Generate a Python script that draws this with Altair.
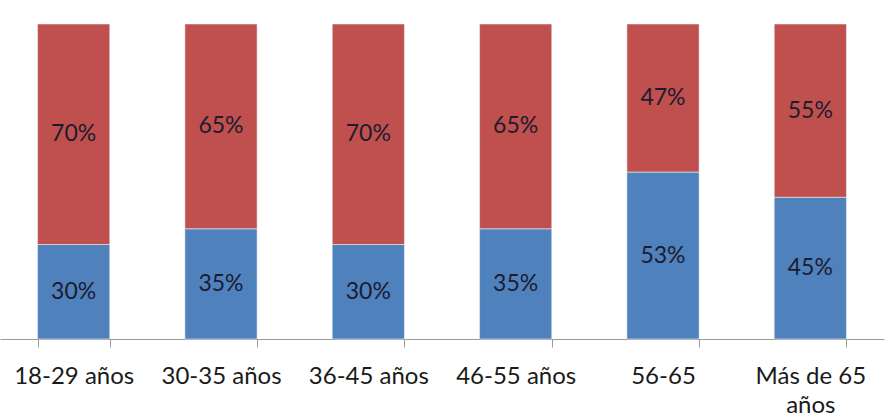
import altair as alt
import pandas as pd

categories = ["18-29 años", "30-35 años", "36-45 años", "46-55 años", "56-65", "Más de 65 años"]
blue_values = [30, 35, 30, 35, 53, 45]
red_values = [70, 65, 70, 65, 47, 55]
series_names = ["Azul", "Rojo"]
colors = ["#4F81BD", "#C0504D"]

rows = []
for c, b, r in zip(categories, blue_values, red_values):
    rows.append({"cat": c, "serie": series_names[0], "orden": 0, "valor": b})
    rows.append({"cat": c, "serie": series_names[1], "orden": 1, "valor": r})
df = pd.DataFrame(rows)

base = alt.Chart(df).transform_stack(
    stack="valor", groupby=["cat"], as_=["y0", "y1"], sort=[alt.SortField("orden", order="ascending")]
).transform_calculate(
    ymid="(datum.y0 + datum.y1) / 2",
    etiqueta="datum.valor + '%'"
)

x = alt.X(
    "cat:N",
    sort=categories,
    title=None,
    scale=alt.Scale(paddingInner=0.51, paddingOuter=0.255),
    axis=alt.Axis(
        domainColor="#9a9a9a",
        tickColor="#9a9a9a",
        tickSize=8,
        tickBand="extent",
        labelAngle=0,
        labelFont="Lato",
        labelFontSize=24,
        labelColor="#1a1a1a",
        labelPadding=17,
        labelLineHeight=29,
        labelExpr="datum.label == 'Más de 65 años' ? ['Más de 65', 'años'] : datum.label",
        grid=False,
    ),
)

bars = base.mark_bar(stroke="#e8eef5", strokeWidth=0.6).encode(
    x=x,
    y=alt.Y("y0:Q", scale=alt.Scale(domain=[0, 100], nice=False), axis=None),
    y2="y1:Q",
    color=alt.Color("serie:N", scale=alt.Scale(domain=series_names, range=colors), legend=None),
)

texts = base.mark_text(font="Lato", fontSize=23, color="#1c1c30").encode(
    x=alt.X("cat:N", sort=categories),
    y=alt.Y("ymid:Q"),
    text="etiqueta:N",
)

chart = alt.layer(bars, texts).properties(
    width=884,
    height=315,
    padding={"left": 0, "top": 24, "right": 4, "bottom": 79},
    autosize=alt.AutoSizeParams(type="none"),
).configure(background="white").configure_view(stroke=None)

chart.save("out.html", embed_options={"renderer": "svg", "actions": False})
